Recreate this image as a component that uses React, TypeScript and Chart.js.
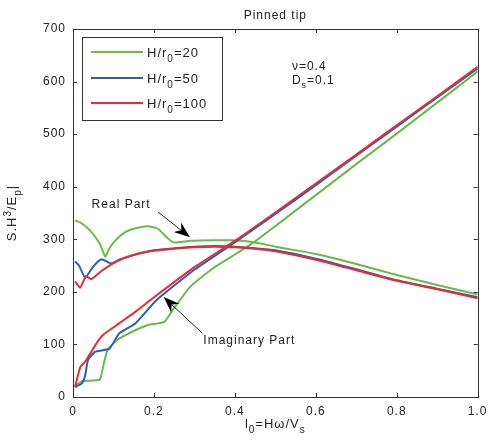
import React, { useEffect, useRef } from "react";
import { Chart, registerables } from "chart.js";

Chart.register(...registerables);

// ---------- data ----------
const xTicks = [0, 0.2, 0.4, 0.6, 0.8, 1];
const yTicks = [0, 100, 200, 300, 400, 500, 600, 700];

const realX20 = [0.005, 0.02, 0.042, 0.066, 0.08, 0.09, 0.105, 0.13, 0.154, 0.186, 0.21, 0.234, 0.25, 0.29, 0.35, 0.4, 0.45, 0.5, 0.6, 0.7, 0.8, 0.9, 1.0];
const realY20 = [336, 331, 317, 292, 267, 283, 298, 314, 321, 325, 320, 302, 294, 297, 298, 298, 294, 286, 272, 253, 232, 213, 195];

const realX50 = [0.005, 0.015, 0.03, 0.05, 0.07, 0.094, 0.114, 0.154, 0.2, 0.25, 0.3, 0.35, 0.4, 0.45, 0.5, 0.6, 0.7, 0.8, 0.9, 1.0];
const realY50 = [258, 250, 227, 248, 262, 254, 261, 271, 279, 283, 286, 287, 286, 283, 279, 263, 243, 222, 206, 190];

const realX100 = [0.005, 0.018, 0.032, 0.045, 0.073, 0.094, 0.114, 0.154, 0.2, 0.25, 0.3, 0.35, 0.4, 0.45, 0.5, 0.6, 0.7, 0.8, 0.9, 1.0];
const realY100 = [220, 208, 230, 224, 241, 252, 260, 271, 278, 282, 285, 286, 285, 282, 277, 261, 241, 221, 205, 188];

const imagX20 = [0.005, 0.022, 0.066, 0.075, 0.085, 0.1, 0.114, 0.154, 0.186, 0.226, 0.246, 0.29, 0.346, 0.4, 0.45, 0.5, 0.6, 0.7, 0.8, 0.9, 1.0];
const imagY20 = [20, 30, 33, 60, 89, 102, 111, 127, 137, 143, 165, 210, 245, 271, 296, 325, 384, 443, 501, 560, 619];

const imagX50 = [0.005, 0.022, 0.03, 0.037, 0.054, 0.09, 0.114, 0.154, 0.206, 0.3, 0.4, 0.5, 0.6, 0.7, 0.8, 0.9, 1.0];
const imagY50 = [19, 26, 41, 70, 86, 92, 121, 140, 184, 242, 294, 348, 403, 459, 514, 570, 625];

const imagX100 = [0.005, 0.018, 0.03, 0.058, 0.074, 0.114, 0.154, 0.194, 0.3, 0.4, 0.5, 0.6, 0.7, 0.8, 0.9, 1.0];
const imagY100 = [19, 57, 67, 102, 118, 140, 162, 186, 247, 297, 351, 406, 461, 517, 572, 628];

const seriesValues = ["20", "50", "100"];
const seriesColors = ["#66bd45", "#2c5fb5", "#ee2a2e"];

const titleText = "Pinned tip";

// annotation anchors in data coordinates
const realLabel = { x: 0.046, y: 369, text: "Real Part" };
const realArrow = { x1: 0.21, y1: 352, x2: 0.289, y2: 304 };
const imagLabel = { x: 0.322, y: 110, text: "Imaginary Part" };
const imagArrow = { x1: 0.32, y1: 121, x2: 0.224, y2: 190 };
const paramLabel = { x: 0.541, y1: 631, y2: 605 };

// ---------- helpers ----------
const FONT = '"Liberation Sans", Arial, sans-serif';
type Part = { t: string; sub?: boolean; sup?: boolean };

function richWidth(ctx: CanvasRenderingContext2D, parts: Part[], size: number) {
  let w = 0;
  for (const p of parts) {
    const s = p.sub || p.sup ? Math.round(size * 0.75) : size;
    ctx.font = `${s}px ${FONT}`;
    w += ctx.measureText(p.t).width;
  }
  return w;
}

function drawRich(ctx: CanvasRenderingContext2D, parts: Part[], x: number, y: number, size: number, align: "left" | "center") {
  ctx.textBaseline = "alphabetic";
  ctx.textAlign = "left";
  let cx = align === "center" ? x - richWidth(ctx, parts, size) / 2 : x;
  for (const p of parts) {
    const s = p.sub || p.sup ? Math.round(size * 0.75) : size;
    ctx.font = `${s}px ${FONT}`;
    const dy = p.sub ? size * 0.35 : p.sup ? -size * 0.4 : 0;
    ctx.fillText(p.t, cx, y + dy);
    cx += ctx.measureText(p.t).width;
  }
}

function drawArrow(ctx: CanvasRenderingContext2D, x1: number, y1: number, x2: number, y2: number) {
  const ang = Math.atan2(y2 - y1, x2 - x1);
  const L = 16, W = 6, N = 11;
  ctx.strokeStyle = "#222";
  ctx.lineWidth = 1;
  ctx.beginPath();
  ctx.moveTo(x1, y1);
  ctx.lineTo(x2 - Math.cos(ang) * N, y2 - Math.sin(ang) * N);
  ctx.stroke();
  const bx = x2 - Math.cos(ang) * L, by = y2 - Math.sin(ang) * L;
  const nx = -Math.sin(ang), ny = Math.cos(ang);
  ctx.fillStyle = "#000";
  ctx.beginPath();
  ctx.moveTo(x2, y2);
  ctx.lineTo(bx + nx * W, by + ny * W);
  ctx.lineTo(x2 - Math.cos(ang) * N, y2 - Math.sin(ang) * N);
  ctx.lineTo(bx - nx * W, by - ny * W);
  ctx.closePath();
  ctx.fill();
}

const decorPlugin = {
  id: "decor",
  beforeDraw(chart: any) {
    chart.ctx.letterSpacing = "1px";
  },
  afterDraw(chart: any) {
    const ctx: CanvasRenderingContext2D = chart.ctx;
    const { left, right, top, bottom } = chart.chartArea;
    const xs = chart.scales.x, ys = chart.scales.y;
    ctx.save();
    ctx.letterSpacing = "1px";
    // box
    ctx.strokeStyle = "#333";
    ctx.lineWidth = 1;
    ctx.strokeRect(Math.round(left) + 0.5, Math.round(top) + 0.5, Math.round(right - left), Math.round(bottom - top));
    // inward ticks
    const TL = 4;
    ctx.beginPath();
    for (const v of xTicks) {
      const px = Math.round(xs.getPixelForValue(v)) + 0.5;
      ctx.moveTo(px, bottom); ctx.lineTo(px, bottom - TL);
      ctx.moveTo(px, top); ctx.lineTo(px, top + TL);
    }
    for (const v of yTicks) {
      const py = Math.round(ys.getPixelForValue(v)) + 0.5;
      ctx.moveTo(left, py); ctx.lineTo(left + TL, py);
      ctx.moveTo(right, py); ctx.lineTo(right - TL, py);
    }
    ctx.stroke();

    ctx.fillStyle = "#222";
    // title
    drawRich(ctx, [{ t: titleText }], (left + right) / 2, 19, 12, "center");
    // x label
    drawRich(ctx, [{ t: "l" }, { t: "0", sub: true }, { t: "=H\u03c9/V" }, { t: "s", sub: true }], (left + right) / 2, 428, 13, "center");
    // y label
    ctx.save();
    ctx.translate(16, (top + bottom) / 2);
    ctx.rotate(-Math.PI / 2);
    drawRich(ctx, [{ t: "S.H" }, { t: "3", sup: true }, { t: "/E" }, { t: "p", sub: true }, { t: "|" }], 0, 0, 13, "center");
    ctx.restore();

    // legend
    const lx = left + 9, ly = top + 8, lw = 140, lh = 83;
    ctx.fillStyle = "#fff";
    ctx.fillRect(lx, ly, lw, lh);
    ctx.strokeStyle = "#333";
    ctx.strokeRect(Math.round(lx) + 0.5, Math.round(ly) + 0.5, lw, lh);
    const rows = [15, 41, 66];
    seriesValues.forEach((v, i) => {
      const ry = ly + rows[i];
      ctx.strokeStyle = seriesColors[i];
      ctx.lineWidth = 2;
      ctx.beginPath();
      ctx.moveTo(lx + 9, ry); ctx.lineTo(lx + 61, ry);
      ctx.stroke();
      ctx.fillStyle = "#222";
      drawRich(ctx, [{ t: "H/r" }, { t: "0", sub: true }, { t: "=" + v }], lx + 65, ry + 5, 13, "left");
    });

    // parameters
    ctx.fillStyle = "#222";
    const pxp = xs.getPixelForValue(paramLabel.x);
    drawRich(ctx, [{ t: "\u03bd=0.4" }], pxp, ys.getPixelForValue(paramLabel.y1) + 5, 12, "left");
    drawRich(ctx, [{ t: "D" }, { t: "s", sub: true }, { t: "=0.1" }], pxp, ys.getPixelForValue(paramLabel.y2) + 5, 12, "left");

    // annotations
    drawRich(ctx, [{ t: realLabel.text }], xs.getPixelForValue(realLabel.x), ys.getPixelForValue(realLabel.y) + 5, 12, "left");
    drawArrow(ctx, xs.getPixelForValue(realArrow.x1), ys.getPixelForValue(realArrow.y1), xs.getPixelForValue(realArrow.x2), ys.getPixelForValue(realArrow.y2));
    ctx.fillStyle = "#222";
    drawRich(ctx, [{ t: imagLabel.text }], xs.getPixelForValue(imagLabel.x), ys.getPixelForValue(imagLabel.y) + 5, 12, "left");
    drawArrow(ctx, xs.getPixelForValue(imagArrow.x1), ys.getPixelForValue(imagArrow.y1), xs.getPixelForValue(imagArrow.x2), ys.getPixelForValue(imagArrow.y2));
    ctx.restore();
  },
};

function pts(xv: number[], yv: number[]) {
  return xv.map((x, i) => ({ x, y: yv[i] }));
}

export default function App() {
  const ref = useRef<HTMLCanvasElement | null>(null);
  useEffect(() => {
    document.body.style.margin = "0";
    const canvas = ref.current;
    if (!canvas) return;
    const curves = [
      [realX20, realY20, imagX20, imagY20],
      [realX50, realY50, imagX50, imagY50],
      [realX100, realY100, imagX100, imagY100],
    ];
    const datasets: any[] = [];
    curves.forEach((c, i) => {
      const common = {
        borderColor: seriesColors[i],
        backgroundColor: seriesColors[i],
        borderWidth: 2,
        pointRadius: 0,
        tension: 0.15,
        fill: false,
        order: 3 - i,
      };
      datasets.push({ label: "H/r0=" + seriesValues[i] + " real", data: pts(c[0], c[1]), ...common });
      datasets.push({ label: "H/r0=" + seriesValues[i] + " imag", data: pts(c[2], c[3]), ...common });
    });
    const chart = new Chart(canvas, {
      type: "line",
      data: { datasets },
      options: {
        animation: false,
        responsive: false,
        layout: { padding: { top: 29, right: 4, left: 0, bottom: 0 } },
        plugins: { legend: { display: false }, title: { display: false }, tooltip: { enabled: false } },
        scales: {
          x: {
            type: "linear",
            min: 0,
            max: 1,
            grid: { display: false, drawTicks: false },
            border: { display: false },
            afterBuildTicks: (s: any) => { s.ticks = xTicks.map((v) => ({ value: v })); },
            afterFit: (s: any) => { s.height = 48; },
            ticks: { padding: 7, color: "#222", font: { family: FONT, size: 12 }, maxRotation: 0, autoSkip: false },
          },
          y: {
            type: "linear",
            min: 0,
            max: 700,
            grid: { display: false, drawTicks: false },
            border: { display: false },
            afterBuildTicks: (s: any) => { s.ticks = yTicks.map((v) => ({ value: v })); },
            afterFit: (s: any) => { s.width = 73; },
            ticks: { padding: 7, color: "#222", font: { family: FONT, size: 12 } },
          },
        },
      } as any,
      plugins: [decorPlugin],
    });
    return () => chart.destroy();
  }, []);
  return (
    <div style={{ width: 493, height: 445 }}>
      <canvas ref={ref} width={493} height={445} />
    </div>
  );
}
